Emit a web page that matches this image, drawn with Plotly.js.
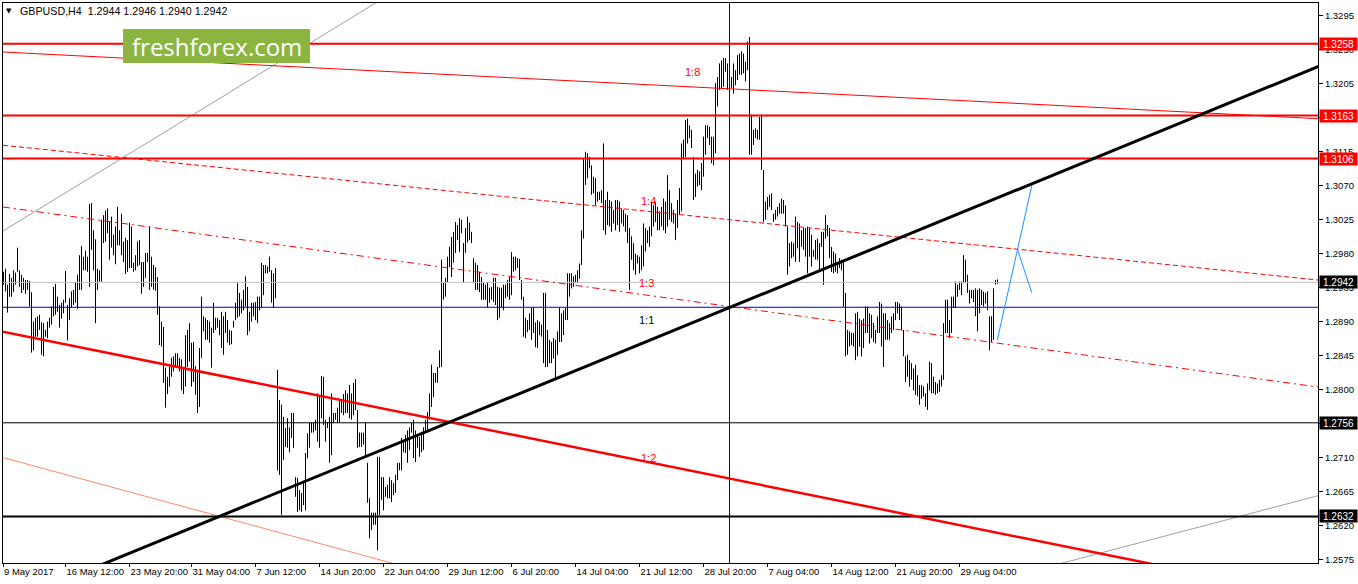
<!DOCTYPE html>
<html><head><meta charset="utf-8">
<script src="https://cdn.plot.ly/plotly-3.0.1.min.js"></script>
<style>html,body{margin:0;padding:0;background:#fff;}#chart{width:1358px;height:584px;}</style>
</head><body><div id="chart"></div>
<script>
// ---- data ----
const symbolName = "GBPUSD,H4";
const lastOHLC = [1.2944, 1.2946, 1.2940, 1.2942];
const timeTickIdx = [-0.25, 31, 63, 94, 126, 158, 190, 222, 254, 286, 318, 350, 382, 414, 446, 478];
const timeTickText = ["9 May 2017","16 May 12:00","23 May 20:00","31 May 04:00","7 Jun 12:00","14 Jun 20:00","22 Jun 04:00","29 Jun 12:00","6 Jul 20:00","14 Jul 04:00","21 Jul 12:00","28 Jul 20:00","7 Aug 04:00","14 Aug 12:00","21 Aug 20:00","29 Aug 04:00"];
const priceTicks = [1.2575,1.2620,1.2665,1.2710,1.2755,1.2800,1.2845,1.2890,1.2935,1.2980,1.3025,1.3070,1.3115,1.3160,1.3205,1.3250,1.3295];

const barHigh = [
1.2956,1.2960,1.2939,1.2953,1.2948,1.2958,1.2955,1.2988,1.2958,1.2952,
1.2948,1.2945,1.2945,1.2944,1.2929,1.2890,1.2895,1.2897,1.2899,1.2889,
1.2888,1.2879,1.2890,1.2895,1.2910,1.2936,1.2940,1.2923,1.2912,1.2915,
1.2919,1.2957,1.2912,1.2921,1.2930,1.2932,1.2942,1.2952,1.2978,1.2990,
1.2976,1.2984,1.2976,1.3046,1.3047,1.3011,1.2999,1.2960,1.2958,1.3025,
1.3031,1.3037,1.3040,1.3022,1.3029,1.3005,1.3016,1.3042,1.3011,1.3033,
1.2996,1.3001,1.2998,1.3021,1.3016,1.2968,1.2978,1.2996,1.2998,1.2969,
1.2969,1.2981,1.2981,1.3016,1.2976,1.2965,1.2962,1.2949,1.2910,1.2890,
1.2883,1.2829,1.2817,1.2830,1.2842,1.2844,1.2848,1.2848,1.2842,1.2840,
1.2830,1.2872,1.2879,1.2888,1.2862,1.2863,1.2831,1.2826,1.2855,1.2923,
1.2897,1.2895,1.2892,1.2890,1.2882,1.2915,1.2895,1.2895,1.2892,1.2903,
1.2897,1.2903,1.2892,1.2879,1.2878,1.2891,1.2915,1.2941,1.2928,1.2919,
1.2932,1.2950,1.2936,1.2903,1.2915,1.2915,1.2916,1.2923,1.2923,1.2968,
1.2965,1.2965,1.2963,1.2976,1.2958,1.2954,1.2961,1.2826,1.2786,1.2780,
1.2764,1.2749,1.2762,1.2750,1.2769,1.2769,1.2684,1.2683,1.2667,1.2663,
1.2678,1.2716,1.2742,1.2756,1.2756,1.2756,1.2760,1.2795,1.2791,1.2818,
1.2817,1.2760,1.2757,1.2764,1.2795,1.2769,1.2769,1.2776,1.2786,1.2786,
1.2794,1.2799,1.2795,1.2806,1.2795,1.2809,1.2814,1.2773,1.2743,1.2743,
1.2743,1.2757,1.2703,1.2656,1.2637,1.2637,1.2637,1.2711,1.2711,1.2684,
1.2684,1.2671,1.2674,1.2684,1.2680,1.2676,1.2687,1.2703,1.2703,1.2736,
1.2731,1.2740,1.2746,1.2750,1.2756,1.2760,1.2746,1.2740,1.2737,1.2744,
1.2750,1.2760,1.2770,1.2795,1.2833,1.2822,1.2822,1.2830,1.2852,1.2972,
1.2942,1.2948,1.2976,1.2989,1.3002,1.3009,1.3022,1.3018,1.3027,1.3025,
1.2994,1.3014,1.3029,1.3021,1.3009,1.2974,1.2968,1.2965,1.2956,1.2949,
1.2942,1.2939,1.2942,1.2935,1.2936,1.2948,1.2948,1.2936,1.2935,1.2935,
1.2939,1.2939,1.2945,1.2949,1.2982,1.2976,1.2976,1.2974,1.2973,1.2945,
1.2923,1.2895,1.2892,1.2901,1.2908,1.2909,1.2889,1.2892,1.2890,1.2886,
1.2928,1.2928,1.2879,1.2866,1.2863,1.2868,1.2866,1.2877,1.2908,1.2901,
1.2905,1.2908,1.2954,1.2954,1.2954,1.2950,1.2952,1.2958,1.2967,1.3011,
1.3106,1.3115,1.3113,1.3108,1.3097,1.3082,1.3080,1.3062,1.3062,1.3064,
1.3126,1.3051,1.3062,1.3051,1.3049,1.3038,1.3051,1.3051,1.3049,1.3040,
1.3038,1.3033,1.3031,1.3014,1.3003,1.2994,1.2980,1.2978,1.2976,1.2991,
1.3020,1.3014,1.3011,1.3016,1.3047,1.3044,1.3049,1.3042,1.3036,1.3042,
1.3053,1.3049,1.3084,1.3064,1.3047,1.3038,1.3033,1.3051,1.3067,1.3126,
1.3131,1.3157,1.3159,1.3150,1.3144,1.3108,1.3086,1.3091,1.3089,1.3100,
1.3135,1.3150,1.3150,1.3148,1.3135,1.3135,1.3206,1.3214,1.3232,1.3236,
1.3239,1.3239,1.3232,1.3223,1.3214,1.3232,1.3223,1.3243,1.3245,1.3248,
1.3245,1.3234,1.3261,1.3267,1.3164,1.3144,1.3146,1.3144,1.3161,1.3164,
1.3091,1.3049,1.3055,1.3058,1.3060,1.3033,1.3038,1.3042,1.3047,1.3053,
1.3051,1.3044,1.3016,1.2994,1.2996,1.2994,1.3029,1.3022,1.3020,1.3011,
1.3014,1.3014,1.3016,1.3014,1.3005,1.2985,1.2998,1.3000,1.2994,1.3009,
1.3009,1.3031,1.3018,1.3014,1.2989,1.2983,1.2980,1.2967,1.2974,1.2972,
1.2972,1.2928,1.2879,1.2877,1.2875,1.2875,1.2901,1.2903,1.2894,1.2892,
1.2894,1.2910,1.2910,1.2901,1.2899,1.2888,1.2879,1.2897,1.2916,1.2914,
1.2901,1.2901,1.2892,1.2888,1.2897,1.2901,1.2916,1.2916,1.2914,1.2910,
1.2879,1.2844,1.2846,1.2839,1.2835,1.2828,1.2833,1.2819,1.2806,1.2806,
1.2804,1.2795,1.2808,1.2837,1.2835,1.2817,1.2810,1.2808,1.2813,1.2819,
1.2888,1.2919,1.2919,1.2892,1.2923,1.2923,1.2943,1.2939,1.2943,1.2943,
1.2978,1.2972,1.2952,1.2932,1.2932,1.2932,1.2934,1.2932,1.2934,1.2932,
1.2930,1.2928,1.2930,1.2897,1.2897,1.2934,1.2945,1.2946];

const barLow = [
1.2939,1.2930,1.2902,1.2923,1.2923,1.2929,1.2939,1.2956,1.2936,1.2928,
1.2932,1.2927,1.2932,1.2910,1.2849,1.2852,1.2870,1.2870,1.2879,1.2846,
1.2844,1.2870,1.2868,1.2882,1.2886,1.2897,1.2899,1.2903,1.2882,1.2894,
1.2901,1.2915,1.2865,1.2892,1.2908,1.2912,1.2915,1.2907,1.2932,1.2932,
1.2958,1.2958,1.2956,1.2936,1.2985,1.2958,1.2888,1.2932,1.2943,1.2943,
1.2994,1.2996,1.3007,1.2972,1.2988,1.2978,1.2966,1.2991,1.2991,1.2978,
1.2969,1.2953,1.2956,1.2961,1.2961,1.2956,1.2958,1.2963,1.2965,1.2927,
1.2936,1.2948,1.2969,1.2932,1.2936,1.2932,1.2931,1.2899,1.2859,1.2857,
1.2809,1.2776,1.2794,1.2804,1.2817,1.2824,1.2830,1.2830,1.2824,1.2799,
1.2794,1.2804,1.2830,1.2837,1.2804,1.2810,1.2793,1.2769,1.2777,1.2842,
1.2877,1.2866,1.2866,1.2862,1.2829,1.2875,1.2879,1.2882,1.2872,1.2855,
1.2846,1.2875,1.2862,1.2859,1.2860,1.2882,1.2892,1.2895,1.2897,1.2901,
1.2905,1.2910,1.2872,1.2877,1.2890,1.2897,1.2892,1.2888,1.2905,1.2908,
1.2925,1.2954,1.2954,1.2956,1.2915,1.2908,1.2921,1.2693,1.2687,1.2634,
1.2707,1.2724,1.2723,1.2717,1.2736,1.2723,1.2658,1.2638,1.2640,1.2638,
1.2647,1.2640,1.2709,1.2723,1.2743,1.2743,1.2746,1.2731,1.2723,1.2762,
1.2753,1.2731,1.2749,1.2703,1.2713,1.2756,1.2760,1.2756,1.2757,1.2769,
1.2766,1.2769,1.2769,1.2762,1.2760,1.2766,1.2773,1.2723,1.2724,1.2724,
1.2727,1.2711,1.2650,1.2603,1.2614,1.2621,1.2621,1.2587,1.2634,1.2654,
1.2640,1.2658,1.2656,1.2656,1.2651,1.2660,1.2663,1.2680,1.2693,1.2693,
1.2717,1.2716,1.2703,1.2720,1.2743,1.2709,1.2704,1.2723,1.2711,1.2717,
1.2720,1.2743,1.2743,1.2764,1.2777,1.2790,1.2809,1.2809,1.2829,1.2830,
1.2919,1.2923,1.2942,1.2962,1.2949,1.2968,1.2981,1.2998,1.2982,1.3007,
1.2942,1.2981,1.2995,1.2998,1.2994,1.2941,1.2932,1.2932,1.2929,1.2919,
1.2919,1.2919,1.2909,1.2915,1.2919,1.2916,1.2912,1.2892,1.2895,1.2909,
1.2905,1.2921,1.2923,1.2919,1.2925,1.2956,1.2958,1.2961,1.2945,1.2919,
1.2870,1.2868,1.2876,1.2879,1.2866,1.2875,1.2856,1.2855,1.2872,1.2870,
1.2835,1.2830,1.2830,1.2835,1.2835,1.2841,1.2813,1.2846,1.2863,1.2863,
1.2872,1.2892,1.2892,1.2923,1.2934,1.2936,1.2941,1.2941,1.2947,1.2965,
1.3000,1.3071,1.3080,1.3093,1.3058,1.3060,1.3044,1.3049,1.3051,1.3047,
1.3011,1.3005,1.3018,1.3016,1.3009,1.3020,1.3011,1.3018,1.3009,1.3020,
1.3016,1.3009,1.2994,1.2932,1.2972,1.2958,1.2952,1.2967,1.2954,1.2958,
1.2963,1.2983,1.2994,1.2989,1.3003,1.3016,1.3022,1.3011,1.3011,1.3016,
1.3011,1.3007,1.3016,1.3025,1.3022,1.3020,1.2998,1.3014,1.3031,1.3036,
1.3106,1.3108,1.3126,1.3133,1.3120,1.3051,1.3055,1.3069,1.3071,1.3064,
1.3082,1.3111,1.3133,1.3124,1.3100,1.3097,1.3113,1.3175,1.3197,1.3199,
1.3201,1.3221,1.3197,1.3206,1.3199,1.3192,1.3203,1.3210,1.3217,1.3217,
1.3219,1.3208,1.3223,1.3111,1.3111,1.3124,1.3133,1.3131,1.3131,1.3091,
1.3022,1.3025,1.3038,1.3042,1.3038,1.3022,1.3025,1.3029,1.3033,1.3033,
1.3033,1.3016,1.2952,1.2963,1.2974,1.2976,1.2969,1.2987,1.2969,1.2989,
1.2985,1.2976,1.2954,1.2976,1.2963,1.2976,1.2972,1.2972,1.2958,1.2989,
1.2939,1.3000,1.3003,1.2974,1.2956,1.2954,1.2956,1.2954,1.2961,1.2958,
1.2910,1.2844,1.2846,1.2857,1.2859,1.2857,1.2839,1.2844,1.2857,1.2844,
1.2855,1.2875,1.2875,1.2861,1.2868,1.2863,1.2861,1.2875,1.2875,1.2857,
1.2830,1.2866,1.2866,1.2866,1.2875,1.2879,1.2892,1.2901,1.2892,1.2879,
1.2844,1.2810,1.2817,1.2804,1.2813,1.2799,1.2793,1.2791,1.2780,1.2788,
1.2791,1.2777,1.2773,1.2799,1.2795,1.2795,1.2793,1.2795,1.2797,1.2804,
1.2813,1.2875,1.2875,1.2868,1.2875,1.2908,1.2908,1.2923,1.2932,1.2925,
1.2941,1.2941,1.2928,1.2914,1.2921,1.2916,1.2897,1.2877,1.2901,1.2912,
1.2910,1.2914,1.2905,1.2852,1.2863,1.2866,1.2939,1.2940];

// horizontal levels
const redLevels = [1.3258, 1.3163, 1.3106];
const blackLevels = [1.2756, 1.2632];
const blueLevel = 1.2909;
const lastPrice = 1.2942;
const verticalIdx = 363;

// analyst drawings (bar index, price)
const blackTrendIdx = [40, 700],        blackTrendPx = [1.25583, 1.32741];
const redChannelIdx = [-10, 600],       redChannelPx = [1.28818, 1.25552];
const redUpperIdx = [-0.25, 657.25],    redUpperPx = [1.32471, 1.31588];
const red14Idx = [-0.25, 657.25],       red14Px = [1.31236, 1.29451];
const red13Idx = [-0.25, 657.25],       red13Px = [1.30418, 1.28034];
const greyUpIdx = [-0.25, 250],         greyUpPx = [1.3010, 1.34157];
const greyLowIdx = [518.25, 657.25],    greyLowPx = [1.25624, 1.26594];
const salmonIdx = [-0.25, 200],         salmonPx = [1.27099, 1.2566];
const blueArrow1Idx = [496.9, 514.1],   blueArrow1Px = [1.28657, 1.30696];
const blueArrow2Idx = [507.1, 514.1],   blueArrow2Px = [1.29849, 1.29283];

const ratioText = ["1:8", "1:4", "1:3", "1:1", "1:2"];
const ratioIdx = [344.25, 322.25, 321.25, 321.25, 322.25];
const ratioPx = [1.3220, 1.3050, 1.2941, 1.2892, 1.2709];
const ratioColor = ["#ff0000", "#ff0000", "#ff0000", "#000000", "#ff0000"];

// ---- build ----
const bx = [], by = [];
for (let i = 0; i < barHigh.length; i++) {
  bx.push(i, i, null);
  by.push(barLow[i], barHigh[i], null);
}
const traces = [{
  type: 'scatter', mode: 'lines', x: bx, y: by,
  line: {color: '#000000', width: 1}, hoverinfo: 'skip', showlegend: false
}];

const shapes = [];
function seg(xs, ys, color, width, dash) {
  shapes.push({type: 'line', xref: 'x', yref: 'y', x0: xs[0], x1: xs[1], y0: ys[0], y1: ys[1],
    line: {color: color, width: width, dash: dash || 'solid'}, layer: 'above'});
}
function hline(y, color, width) {
  shapes.push({type: 'line', xref: 'paper', yref: 'y', x0: 0, x1: 1, y0: y, y1: y,
    line: {color: color, width: width}, layer: 'above'});
}

hline(lastPrice, '#c0c0c0', 1);
seg(greyUpIdx, greyUpPx, '#a0a0a0', 1);
seg(greyLowIdx, greyLowPx, '#a0a0a0', 1);
seg(salmonIdx, salmonPx, '#fa8a6e', 1);
hline(blueLevel, '#0000c0', 1);
shapes.push({type: 'line', xref: 'x', yref: 'paper', x0: verticalIdx, x1: verticalIdx, y0: 0, y1: 1,
  line: {color: '#0000c0', width: 1}, layer: 'above'});
hline(blackLevels[0], '#000000', 1);
hline(blackLevels[1], '#000000', 2);
seg(red14Idx, red14Px, '#ff0000', 1, '5px,3px');
seg(red13Idx, red13Px, '#ff0000', 1, '7px,4px,2px,4px');
seg(redUpperIdx, redUpperPx, '#ff0000', 1);
seg(redChannelIdx, redChannelPx, '#ff0000', 2.5);
redLevels.forEach(v => hline(v, '#ff0000', 2));
seg(blackTrendIdx, blackTrendPx, '#000000', 3);
seg(blueArrow1Idx, blueArrow1Px, '#1e90ff', 1);
seg(blueArrow2Idx, blueArrow2Px, '#1e90ff', 1);

// logo box
shapes.push({type: 'rect', xref: 'paper', yref: 'paper', x0: 0.09125, x1: 0.23346, y0: 0.89286, y1: 0.95357,
  fillcolor: '#8cb441', line: {width: 0}, layer: 'above'});

const annotations = [];
annotations.push({xref: 'paper', yref: 'paper', x: 0.16236, y: 0.9232, text: 'freshforex.com',
  showarrow: false, font: {family: 'Open Sans, sans-serif', size: 24, color: '#ffffff'}, xanchor: 'center', yanchor: 'middle'});
annotations.push({xref: 'paper', yref: 'paper', x: 0.0049, y: 0.9866, text: '\u25BC', showarrow: false,
  font: {family: 'DejaVu Sans', size: 7, color: '#000'}, xanchor: 'center', yanchor: 'middle'});
annotations.push({xref: 'paper', yref: 'paper', x: 0.0114, y: 0.9866,
  text: symbolName + '&nbsp;&nbsp;' + lastOHLC.map(v => v.toFixed(4)).join(' '), showarrow: false,
  font: {family: 'Liberation Sans, Arial, sans-serif', size: 10.7, color: '#000'}, xanchor: 'left', yanchor: 'middle'});

for (let k = 0; k < ratioText.length; k++) {
  annotations.push({xref: 'x', yref: 'y', x: ratioIdx[k], y: ratioPx[k], text: ratioText[k], showarrow: false,
    font: {family: 'Liberation Sans, Arial, sans-serif', size: 11, color: ratioColor[k]}, xanchor: 'center', yanchor: 'middle'});
}
function priceBox(v, bg) {
  annotations.push({xref: 'paper', yref: 'y', x: 1, y: v, xanchor: 'left', yanchor: 'middle', xshift: 1,
    text: v.toFixed(4), showarrow: false, bgcolor: bg, borderpad: 1, width: 35, height: 10, align: 'center',
    font: {family: 'Liberation Sans, Arial, sans-serif', size: 10, color: '#ffffff'}});
}
redLevels.forEach(v => priceBox(v, '#ff0000'));
priceBox(lastPrice, '#000000');
blackLevels.forEach(v => priceBox(v, '#000000'));

const tickFont = {family: 'Liberation Sans, Arial, sans-serif', size: 9.5, color: '#000'};
const layout = {
  width: 1358, height: 584,
  margin: {l: 3, r: 40, t: 3, b: 21, pad: 0},
  paper_bgcolor: '#ffffff', plot_bgcolor: '#ffffff',
  showlegend: false,
  xaxis: {range: [-0.25, 657.25], showgrid: false, zeroline: false, showline: true, mirror: true,
    linecolor: '#000', linewidth: 1, tickmode: 'array', tickvals: timeTickIdx, ticktext: timeTickText,
    ticks: 'outside', ticklen: 3, tickcolor: '#000', tickfont: tickFont, ticklabelposition: 'outside right',
    tickangle: 0, automargin: false, fixedrange: true},
  yaxis: {range: [1.25703, 1.33120], side: 'right', showgrid: false, zeroline: false, showline: true, mirror: true,
    linecolor: '#000', linewidth: 1, tickmode: 'array', tickvals: priceTicks,
    ticktext: priceTicks.map(v => v.toFixed(4)), ticks: 'outside', ticklen: 4, tickcolor: '#000',
    tickfont: tickFont, automargin: false, fixedrange: true},
  shapes: shapes,
  annotations: annotations
};
Plotly.newPlot('chart', traces, layout, {displayModeBar: false, staticPlot: true});
</script>
</body></html>
